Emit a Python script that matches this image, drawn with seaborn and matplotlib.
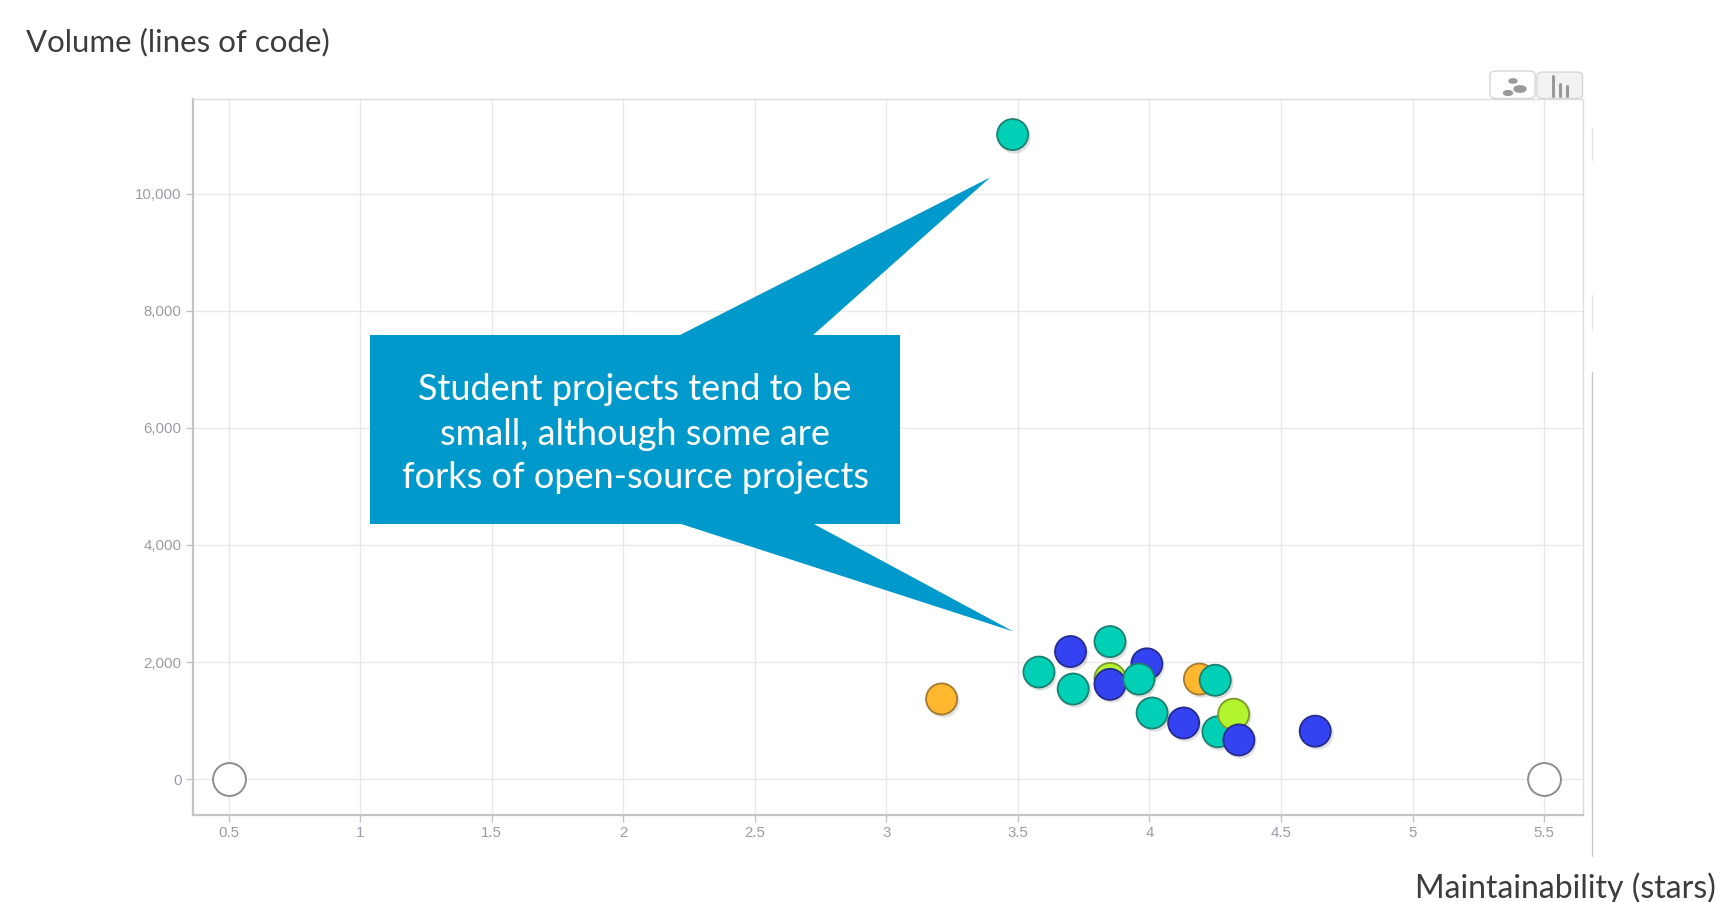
import matplotlib
matplotlib.use("Agg")
import matplotlib.pyplot as plt
import matplotlib.transforms as mtransforms
from matplotlib.patches import Polygon, FancyBboxPatch, Rectangle
import seaborn as sns
import pandas as pd

# Project scores: maintainability rating (stars) vs. size (lines of code)
maintainability = [3.48, 3.21, 3.58, 3.70, 3.85, 3.71, 3.85, 3.85, 3.99, 3.96,
                   4.19, 4.25, 4.01, 4.13, 4.26, 4.32, 4.34, 4.63]
volume = [11010, 1370, 1830, 2180, 2350, 1540, 1720, 1620, 1970, 1710,
          1710, 1690, 1130, 960, 810, 1110, 670, 820]
group = ["teal", "orange", "teal", "blue", "teal", "teal", "lime", "blue", "blue", "teal",
         "orange", "teal", "teal", "blue", "teal", "lime", "blue", "blue"]

# Range anchors drawn as hollow circles at both ends of the scale
anchor_x = [0.5, 5.5]
anchor_y = [0, 0]

palette = {"teal": "#00D1B6", "blue": "#3443F2", "orange": "#FFB730", "lime": "#B2F52E"}
edges = {"teal": "#1C8070", "blue": "#262B90", "orange": "#A4792A", "lime": "#7A9A2A"}

x_ticks = [0.5, 1, 1.5, 2, 2.5, 3, 3.5, 4, 4.5, 5, 5.5]
x_tick_labels = ["0.5", "1", "1.5", "2", "2.5", "3", "3.5", "4", "4.5", "5", "5.5"]
y_ticks = [0, 2000, 4000, 6000, 8000, 10000]
y_tick_labels = ["0", "2,000", "4,000", "6,000", "8,000", "10,000"]

callout_lines = ["Student projects tend to be",
                 "small, although some are",
                 "forks of open-source projects"]

df = pd.DataFrame({"maintainability": maintainability, "volume": volume, "group": group})

sns.set_theme(style="white")
plt.rcParams["font.family"] = ["Lato", "DejaVu Sans"]

W, H = 1716, 902
fig = plt.figure(figsize=(W / 100, H / 100), dpi=100)
fig.patch.set_facecolor("white")


def fx(px):
    return px / W


def fy(py):
    return 1 - py / H


ax = fig.add_axes([fx(192.6), fy(815.3), fx(1582.5) - fx(192.6), fy(98.5) - fy(815.3)])
ax.set_xlim(0.363, 5.646)
ax.set_ylim(-617, 11626)

ax.set_xticks(x_ticks)
ax.set_xticklabels(x_tick_labels)
ax.set_yticks(y_ticks)
ax.set_yticklabels(y_tick_labels)
ax.grid(True, color="#e8e8e8", linewidth=1.0)
ax.set_axisbelow(True)
for side in ["top", "right"]:
    ax.spines[side].set_color("#dddddd")
    ax.spines[side].set_linewidth(1.0)
for side in ["left", "bottom"]:
    ax.spines[side].set_color("#c4c4c4")
    ax.spines[side].set_linewidth(1.6)
ax.tick_params(axis="both", which="both", length=5, width=1, color="#c4c4c4",
               labelcolor="#979ca6", labelsize=10.8, pad=3, left=True, bottom=True)
for lab in ax.get_xticklabels() + ax.get_yticklabels():
    lab.set_fontfamily(["Liberation Sans", "DejaVu Sans"])

# soft drop shadow under each marker
shadow = mtransforms.offset_copy(ax.transData, fig=fig, x=1.5, y=-2.0, units="dots")
ax.scatter(df["maintainability"], df["volume"], s=540, color="#000000", alpha=0.12,
           linewidths=0, transform=shadow, zorder=2)

sns.scatterplot(data=df, x="maintainability", y="volume", hue="group", palette=palette,
                s=500, edgecolor=[edges[g] for g in group], linewidth=1.3, legend=False,
                ax=ax, zorder=3)
ax.scatter(anchor_x, anchor_y, s=560, facecolor="white", edgecolor="#8c8c8c",
           linewidths=1.4, zorder=3, clip_on=False)
ax.set_xlabel("")
ax.set_ylabel("")

# callout box with two pointers
blue = "#0099CC"
box = Rectangle((fx(370), fy(524.2)), fx(899.6) - fx(370), fy(334.9) - fy(524.2),
                transform=fig.transFigure, facecolor=blue, edgecolor="none", zorder=5)
fig.add_artist(box)
tip_up = Polygon([(fx(678), fy(336)), (fx(812), fy(336)), (fx(990.4), fy(177.3))],
                 closed=True, transform=fig.transFigure, facecolor=blue, edgecolor="none", zorder=5)
tip_down = Polygon([(fx(678), fy(523)), (fx(812), fy(523)), (fx(1013.4), fy(631.5))],
                   closed=True, transform=fig.transFigure, facecolor=blue, edgecolor="none", zorder=5)
fig.add_artist(tip_up)
fig.add_artist(tip_down)
for i, line in enumerate(callout_lines):
    fig.text(fx(635), fy(390 + 44 * i), line, ha="center", va="center", color="white",
             fontsize=26, fontfamily=["Lato", "DejaVu Sans"], zorder=6)

# axis titles
fig.text(fx(26), fy(42), "Volume (lines of code)", ha="left", va="center",
         color="#3c3c3c", fontsize=22.5)
fig.text(fx(1415), fy(888), "Maintainability (stars)", ha="left", va="center",
         color="#3c3c3c", fontsize=23)

# chart-type tabs in the top-right corner
tab_scatter = FancyBboxPatch((fx(1490), fy(98.5)), fx(1535) - fx(1490), fy(71) - fy(98.5),
                             boxstyle="round,pad=0,rounding_size=0.004", transform=fig.transFigure,
                             facecolor="white", edgecolor="#d6d6d6", linewidth=1.0, zorder=4)
tab_bars = FancyBboxPatch((fx(1537), fy(98.5)), fx(1582.5) - fx(1537), fy(72) - fy(98.5),
                          boxstyle="round,pad=0,rounding_size=0.004", transform=fig.transFigure,
                          facecolor="#f2f2f2", edgecolor="#d6d6d6", linewidth=1.0, zorder=4)
fig.add_artist(tab_scatter)
fig.add_artist(tab_bars)
for (cx, cy, r) in [(1508, 93, 4.5), (1520, 89, 6), (1513, 81, 4)]:
    fig.add_artist(plt.Circle((fx(cx), fy(cy)), r / W, transform=fig.transFigure,
                              color="#999999", zorder=5))
for (bx, top) in [(1553, 76), (1560, 84), (1567, 86)]:
    fig.add_artist(plt.Line2D([fx(bx), fx(bx)], [fy(96), fy(top)], color="#999999",
                              linewidth=2.2, transform=fig.transFigure, zorder=5))

# thin frame remnants on the right edge
fig.add_artist(plt.Line2D([fx(1592), fx(1592)], [fy(372), fy(856)], color="#c8c8c8",
                          linewidth=1.0, transform=fig.transFigure))
fig.add_artist(plt.Line2D([fx(1592), fx(1592)], [fy(128), fy(160)], color="#e4e4e4",
                          linewidth=1.0, transform=fig.transFigure))
fig.add_artist(plt.Line2D([fx(1592), fx(1592)], [fy(295), fy(330)], color="#e4e4e4",
                          linewidth=1.0, transform=fig.transFigure))

fig.savefig("out.png", dpi=100, facecolor="white")
